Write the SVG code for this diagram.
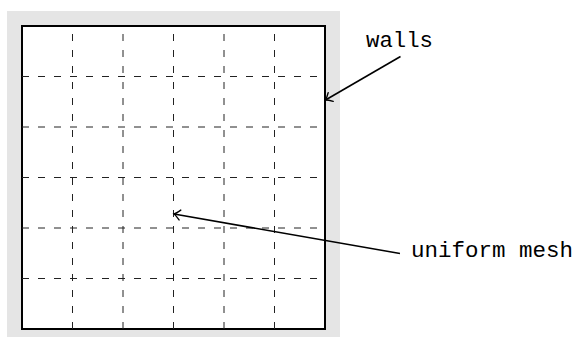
<svg xmlns="http://www.w3.org/2000/svg" width="579" height="337" viewBox="0 0 579 337">
<style>
.grid{stroke:#222;stroke-width:1;stroke-dasharray:7 9;fill:none}
.wall{stroke:#000;stroke-width:2;fill:#fff}
.conn{stroke:#000;stroke-width:1.6;fill:none}
.lbl{font-family:"Liberation Mono","DejaVu Sans Mono",monospace;font-size:22px;fill:#000}
</style>
<defs>
<marker id="to" viewBox="-8 -6 10 12" markerWidth="10" markerHeight="12" refX="0" refY="0" orient="auto" markerUnits="userSpaceOnUse">
<path d="M-6,-5 Q-2,-1 0,0 Q-2,1 -6,5" fill="none" stroke="#000" stroke-width="1.4" stroke-linecap="round"/>
</marker>
</defs>
<rect x="7" y="11" width="333" height="333" fill="#e5e5e5"/>
<g id="domain">
<rect class="wall" x="22" y="26" width="303" height="303"/>
<g id="mesh">
<path class="grid" d="M72.5,329V26M123,329V26M173.5,329V26M224,329V26M274.5,329V26"/>
<path class="grid" d="M22,76.5H325M22,127H325M22,177.5H325M22,228H325M22,278.5H325"/>
</g>
</g>
<g id="labels">
<text class="lbl" x="366" y="47" textLength="67" lengthAdjust="spacingAndGlyphs">walls</text>
<text class="lbl" x="411" y="257" textLength="162" lengthAdjust="spacingAndGlyphs">uniform mesh</text>
</g>
<g id="connectors">
<line class="conn" x1="400.5" y1="56.5" x2="325.5" y2="100" marker-end="url(#to)"/>
<line class="conn" x1="400" y1="253.5" x2="174" y2="214" marker-end="url(#to)"/>
</g>
</svg>
